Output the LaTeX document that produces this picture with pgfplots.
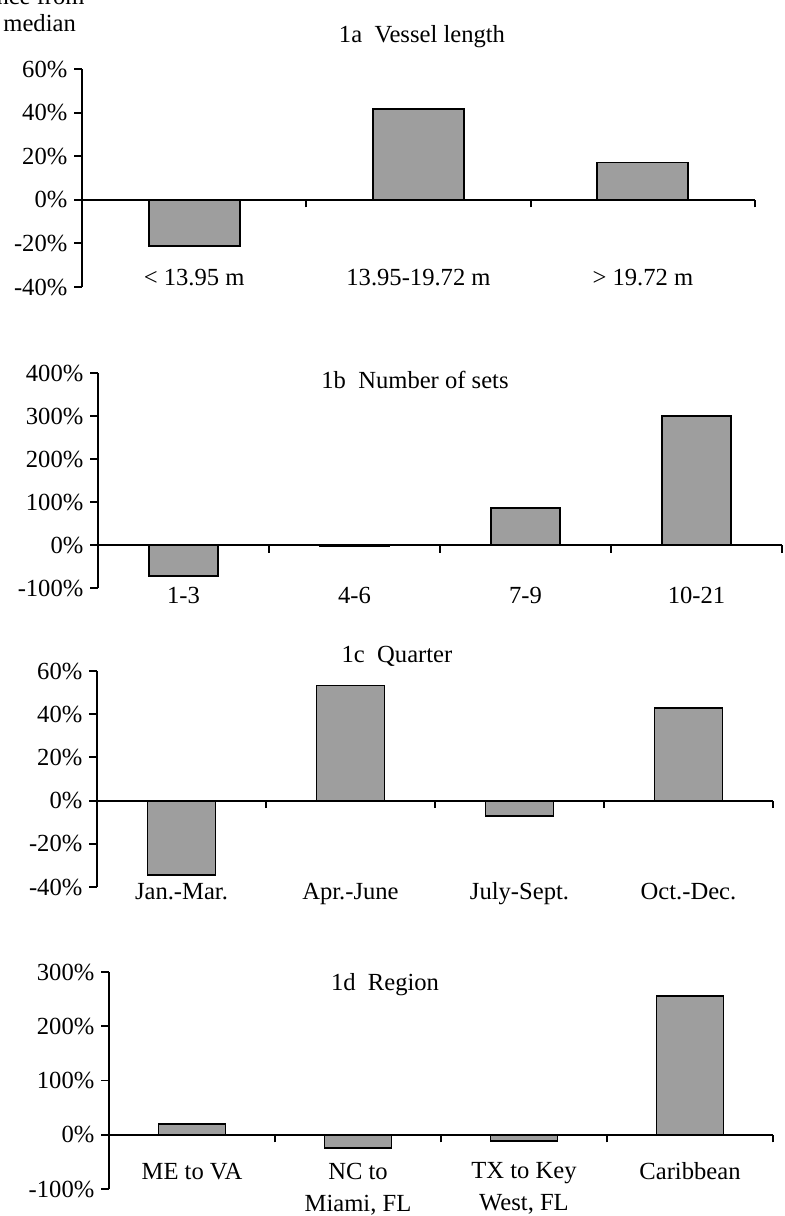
\documentclass[border=0pt]{standalone}
\usepackage{fontspec}
\setmainfont{Liberation Serif}
\usepackage{pgfplots}
\pgfplotsset{compat=1.18}
\definecolor{barfill}{gray}{0.62}
\newcommand{\fs}{\fontsize{12.3pt}{14pt}\selectfont}
\begin{document}
\begin{tikzpicture}[font=\fs]
\useasboundingbox (0,0) rectangle (392pt,608pt);
\pgfplotsset{
  panel/.style={
    scale only axis,
    anchor=south west,
    axis y line=left,
    axis x line=middle,
    axis line style={-, line width=0.95pt, black},
    ytick align=outside,
    xtick align=outside,
    major tick length=3.8pt,
    every tick/.style={black, line width=0.95pt},
    tick label style={font=\fs},
    ybar,
    xmin=-0.5,
    clip=false,
    extra x tick style={major tick length=0pt, xticklabel style={anchor=base, align=center, font=\fontsize{12.3pt}{16pt}\selectfont}},
  },
  barsty/.style={fill=barfill, draw=black, line width=0.95pt},
}

% ---------- 1a Vessel length ----------
\begin{axis}[panel, at={(41pt,464.5pt)}, width=336.5pt, height=109pt,
  xmax=2.5, ymin=-40, ymax=60, bar width=45.5pt,
  ytick={-40,-20,0,20,40,60},
  yticklabels={-40\%,-20\%,0\%,20\%,40\%,60\%},
  xtick={0.5,1.5,2.5}, xticklabels={,,},
  extra x ticks={0,1,2},
  extra x tick labels={{< 13.95 m},{13.95-19.72 m},{> 19.72 m}},
  extra x tick style={xticklabel style={yshift=-43pt}}]
\addplot[barsty] coordinates {(0,-21.4) (1,41.7) (2,17.1)};
\end{axis}

% ---------- 1b Number of sets ----------
\begin{axis}[panel, at={(49pt,314pt)}, width=342pt, height=107.5pt,
  xmax=3.5, ymin=-100, ymax=400, bar width=34.5pt,
  ytick={-100,0,100,200,300,400},
  yticklabels={-100\%,0\%,100\%,200\%,300\%,400\%},
  xtick={0.5,1.5,2.5,3.5}, xticklabels={,,,},
  extra x ticks={0,1,2,3},
  extra x tick labels={1-3,4-6,7-9,10-21},
  extra x tick style={xticklabel style={yshift=-29.5pt}}]
\addplot[barsty] coordinates {(0,-72) (1,-2) (2,86.5) (3,301)};
\end{axis}

% ---------- 1c Quarter ----------
\begin{axis}[panel, at={(48.5pt,164.5pt)}, width=338pt, height=108pt,
  xmax=3.5, ymin=-40, ymax=60, bar width=34pt,
  ytick={-40,-20,0,20,40,60},
  yticklabels={-40\%,-20\%,0\%,20\%,40\%,60\%},
  xtick={0.5,1.5,2.5,3.5}, xticklabels={,,,},
  extra x ticks={0,1,2,3},
  extra x tick labels={Jan.-Mar.,Apr.-June,July-Sept.,Oct.-Dec.},
  extra x tick style={xticklabel style={yshift=-49.5pt}}]
\addplot[barsty] coordinates {(0,-34.3) (1,53.3) (2,-7) (3,43)};
\end{axis}

% ---------- 1d Region ----------
\begin{axis}[panel, at={(54.5pt,13.5pt)}, width=332pt, height=108.5pt,
  xmax=3.5, ymin=-100, ymax=300, bar width=33.5pt,
  ytick={-100,0,100,200,300},
  yticklabels={-100\%,0\%,100\%,200\%,300\%},
  xtick={0.5,1.5,2.5,3.5}, xticklabels={,,,},
  extra x ticks={0,1,2,3},
  extra x tick labels={{ME to VA},{NC to\\Miami, FL},{TX to Key\\West, FL},{Caribbean}},
  extra x tick style={xticklabel style={anchor=north, yshift=-10.5pt}}]
\addplot[barsty] coordinates {(0,19.6) (1,-24) (2,-12) (3,256)};
\end{axis}

% ---------- titles ----------
\node at (211pt,589.5pt) {1a\hspace{0.5em}Vessel length};
\node at (207.5pt,418pt) {1b\hspace{0.5em}Number of sets};
\node at (198.5pt,280pt) {1c\hspace{0.5em}Quarter};
\node at (192.5pt,115.5pt) {1d\hspace{0.5em}Region};
% ---------- y label (cut off at the top, as in the reference) ----------
\node[anchor=base east, inner sep=0pt] at (42.5pt,605.5pt) {Difference from};
\node[anchor=base west, inner sep=0pt] at (1.5pt,592pt) {median};
\end{tikzpicture}
\end{document}
